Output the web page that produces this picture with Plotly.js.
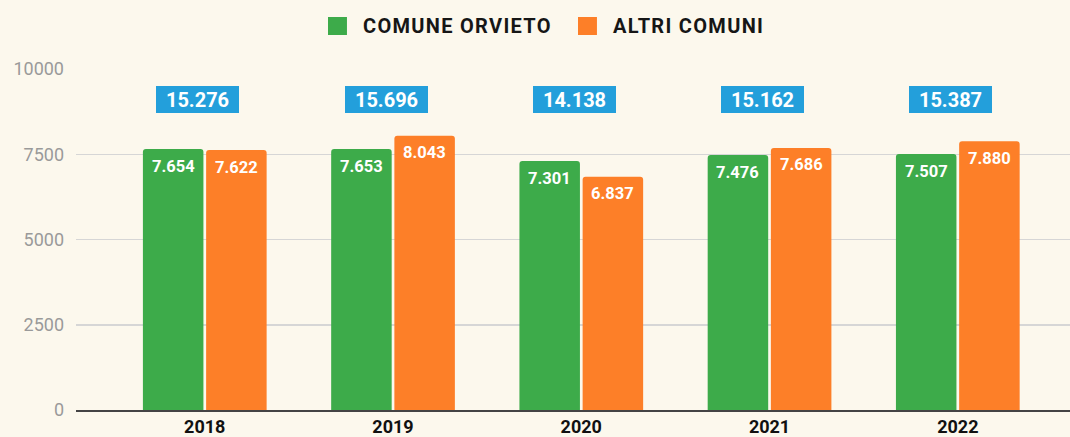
<!DOCTYPE html>
<html><head><meta charset="utf-8">
<script src="https://cdn.plot.ly/plotly-3.0.1.min.js"></script>
<style>html,body{margin:0;padding:0;background:#fcf8ed;}#chart{width:1070px;height:437px;}</style>
</head><body><div id="chart"></div>
<script>
const years = ['2018','2019','2020','2021','2022'];
const orvieto = [7654, 7653, 7301, 7476, 7507];
const altri = [7622, 8043, 6837, 7686, 7880];
const yTicks = [0, 2500, 5000, 7500, 10000];
const seriesNames = ['COMUNE ORVIETO', 'ALTRI COMUNI'];
const seriesColors = ['#3dab4a', '#fd7f28'];

function fmt(v){ return String(v).replace(/\B(?=(\d{3})+(?!\d))/g, '.'); }
const totals = years.map((y,i)=>orvieto[i]+altri[i]);

const BARGAP = 0.3285;
const slot = (1 - BARGAP) / 2;
const series = [orvieto, altri];
const traces = series.map((vals,k)=>({
  type:'bar', name:seriesNames[k], x:years, y:vals,
  marker:{color:seriesColors[k]}, hoverinfo:'none', showlegend:false
}));

const annotations = [];
// value labels inside bars
series.forEach((vals,k)=>{
  vals.forEach((v,i)=>{
    annotations.push({x:i + (k===0 ? -slot/2 : slot/2), y:v, xref:'x', yref:'y', yanchor:'middle', yshift:-17,
      text:'<b>'+fmt(v)+'</b>', showarrow:false,
      font:{family:'Roboto, sans-serif', size:16.5, color:'#ffffff'}});
  });
});
// totals
years.forEach((y,i)=>{
  annotations.push({x:i, y:9120, xref:'x', yref:'y', xshift:-7, text:'<b>'+fmt(totals[i])+'</b>', showarrow:false,
    bgcolor:'#239fdb', bordercolor:'#239fdb', borderwidth:1, borderpad:1, width:79, height:23,
    font:{family:'Roboto, sans-serif', size:20, color:'#ffffff'}});
});
// custom legend
const legX = [[0.2535,0.2726,0.2867],[0.505,0.5241,0.5382]];
const shapes = [];
seriesNames.forEach((n,k)=>{
  shapes.push({type:'rect', xref:'paper', yref:'paper', x0:legX[k][0], x1:legX[k][1], y0:1.0997, y1:1.1525,
    fillcolor:seriesColors[k], line:{width:0}});
  annotations.push({xref:'paper', yref:'paper', x:legX[k][2], y:1.1261, xanchor:'left', yanchor:'middle',
    text:'<b><span style="letter-spacing:1.3px">'+n+'</span></b>', showarrow:false,
    font:{family:'Roboto, sans-serif', size:20, color:'#161616'}});
});

const layout = {
  width:1070, height:437,
  paper_bgcolor:'#fcf8ed', plot_bgcolor:'#fcf8ed',
  margin:{l:76, r:0, t:69, b:27},
  barmode:'group', bargap:BARGAP, bargroupgap:0.0427, barcornerradius:3,
  showlegend:false,
  xaxis:{type:'category', range:[-0.684, 4.596], showgrid:false, ticks:'',
    tickfont:{family:'Roboto, sans-serif', size:18, color:'#111', weight:'bold'},
    showline:true, linecolor:'#444', linewidth:1.5, ticklabelstandoff:0},
  yaxis:{range:[0,10000], tickvals:yTicks, ticktext:yTicks.map(String), gridcolor:'#d6d6d6', gridwidth:1.5,
    zeroline:false, tickfont:{family:'Roboto, sans-serif', size:18, color:'#9a9a9a'}, ticklen:0, ticks:'',
    ticklabelstandoff:11},
  shapes:shapes,
  annotations:annotations
};
Plotly.newPlot('chart', traces, layout, {displayModeBar:false, staticPlot:true});
</script></body></html>
